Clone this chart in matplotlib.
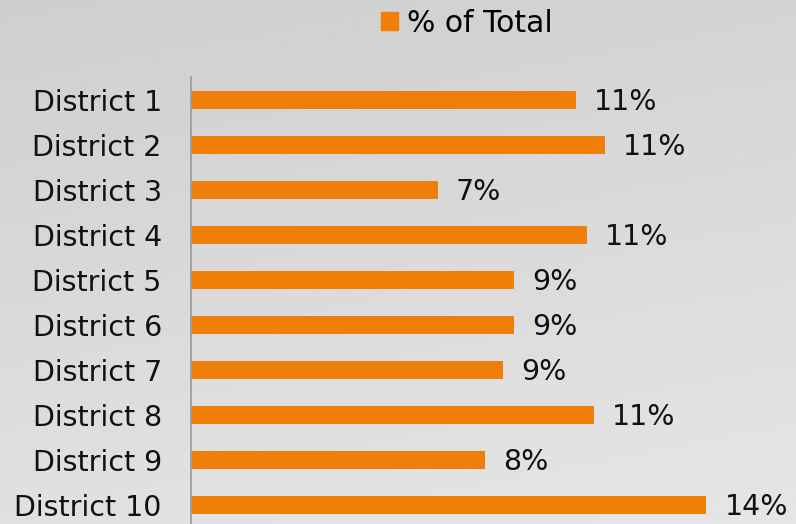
import numpy as np
import matplotlib
matplotlib.use("Agg")
import matplotlib.pyplot as plt
from matplotlib.patches import Patch

# data
districts = ["District %d" % i for i in range(1, 11)]
pct = [10.6, 11.4, 6.8, 10.9, 8.9, 8.9, 8.6, 11.1, 8.1, 14.2]
series_name = "% of Total"

W, H = 796, 524
fig = plt.figure(figsize=(W / 100, H / 100), dpi=100)

# gray gradient background
bg = fig.add_axes([0, 0, 1, 1])
yy, xx = np.mgrid[0:1:200j, 0:1:300j]
grad = 0.81 + 0.07 * yy + 0.02 * xx
bg.imshow(grad, cmap="gray", vmin=0, vmax=1, aspect="auto",
          extent=[0, 1, 1, 0], interpolation="bilinear")
bg.axis("off")

ax = fig.add_axes([191 / W, 0, (W - 191) / W, (H - 77) / H])
ax.patch.set_visible(False)
y = np.arange(len(districts))
ax.barh(y, pct, height=0.4, color="#f07f09", label=series_name)
ax.set_ylim(-0.5 + (H - 77) / 45.06, -0.5)
ax.set_xlim(0, (W - 191) / 36.3)

for v, yi in zip(pct, y):
    ax.annotate("%d%%" % round(v), (v, yi), xytext=(18, -2), textcoords="offset pixels",
                va="center", ha="left", fontsize=20.5, color="#111111")

ax.set_yticks(y)
ax.set_yticklabels(districts, fontsize=20.5, color="#111111")
ax.tick_params(axis="y", length=0, pad=21)
ax.set_xticks([])
for s in ["top", "right", "bottom"]:
    ax.spines[s].set_visible(False)
ax.spines["left"].set_color("#9a9a9a")
ax.spines["left"].set_linewidth(1.2)

fig.legend(handles=[Patch(color="#f07f09", label=series_name)], loc="center",
           bbox_to_anchor=(467 / W, 1 - 23 / H), frameon=False, fontsize=21.5,
           handlelength=0.55, handleheight=0.55, handletextpad=0.3)

fig.savefig("out.png", dpi=100)
